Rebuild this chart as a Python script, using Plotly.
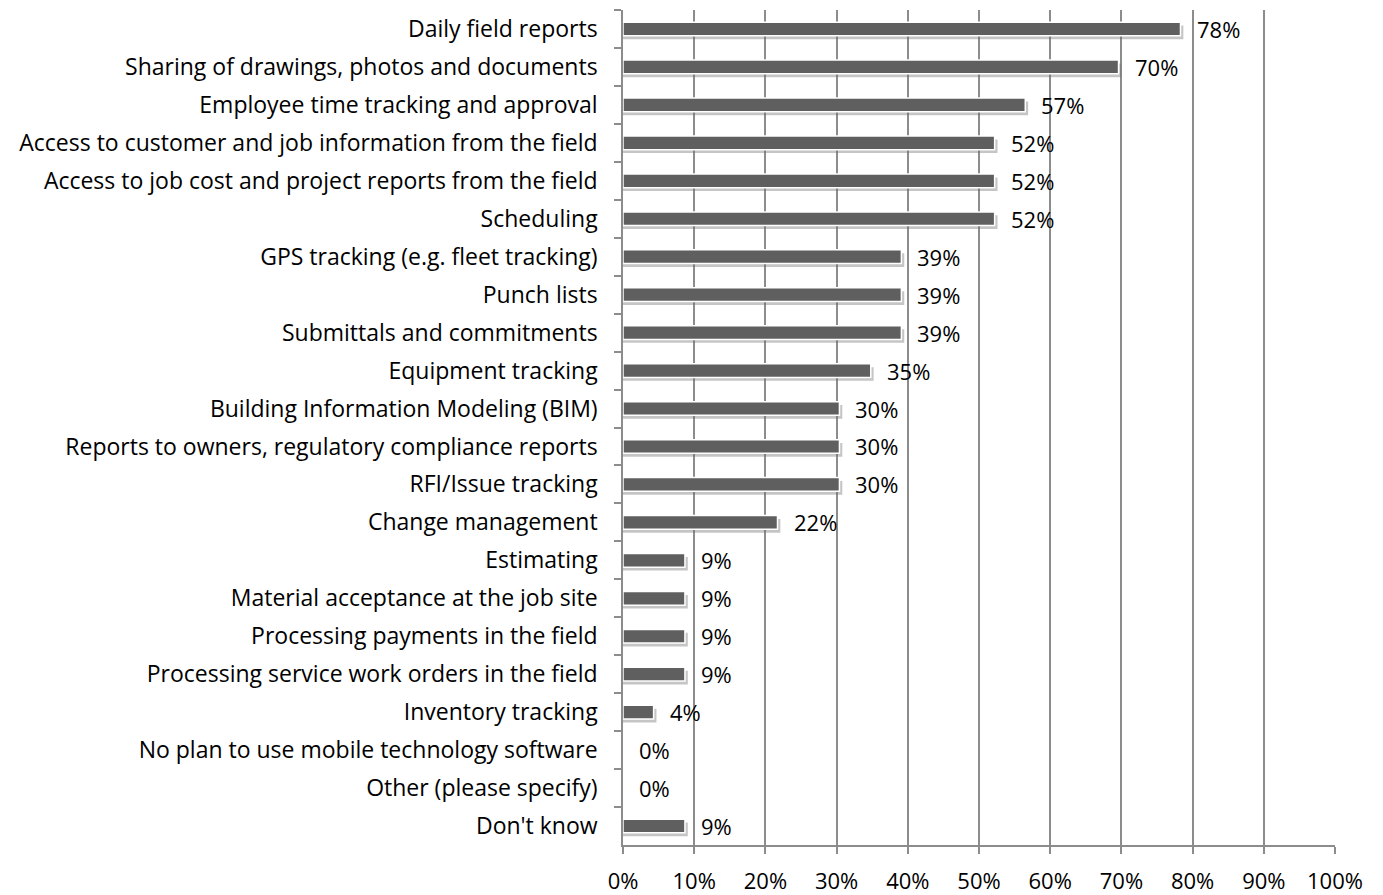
import plotly.graph_objects as go

categories = [
    "Daily field reports",
    "Sharing of drawings, photos and documents",
    "Employee time tracking and approval",
    "Access to customer and job information from the field",
    "Access to job cost and project reports from the field",
    "Scheduling",
    "GPS tracking (e.g. fleet tracking)",
    "Punch lists",
    "Submittals and commitments",
    "Equipment tracking",
    "Building Information Modeling (BIM)",
    "Reports to owners, regulatory compliance reports",
    "RFI/Issue tracking",
    "Change management",
    "Estimating",
    "Material acceptance at the job site",
    "Processing payments in the field",
    "Processing service work orders in the field",
    "Inventory tracking",
    "No plan to use mobile technology software",
    "Other (please specify)",
    "Don't know",
]
values = [78.3, 69.6, 56.5, 52.2, 52.2, 52.2, 39.1, 39.1, 39.1, 34.8, 30.4, 30.4,
          30.4, 21.7, 8.7, 8.7, 8.7, 8.7, 4.3, 0, 0, 8.7]
labels = ["78%", "70%", "57%", "52%", "52%", "52%", "39%", "39%", "39%", "35%",
          "30%", "30%", "30%", "22%", "9%", "9%", "9%", "9%", "4%", "0%", "0%", "9%"]
x_ticks = [0, 10, 20, 30, 40, 50, 60, 70, 80, 90, 100]

FONT = "Open Sans"
FS = 23
BAR_W = 0.36

fig = go.Figure()
# soft drop shadow under each bar
fig.add_trace(go.Bar(
    y=categories, x=[v + 0.4 if v > 0 else 0 for v in values], orientation="h",
    marker=dict(color="rgba(110,110,110,0.4)", line=dict(width=0)),
    width=BAR_W, offset=-BAR_W / 2 + 0.09, hoverinfo="skip",
))
fig.add_trace(go.Bar(
    y=categories, x=values, orientation="h",
    marker=dict(color="#5f5f5f", line=dict(color="white", width=1.5)),
    width=BAR_W, offset=-BAR_W / 2, hoverinfo="x+y",
))
for c, v, t in zip(categories, values, labels):
    fig.add_annotation(x=v, y=c, text=t, showarrow=False, xanchor="left",
                       xshift=14, font=dict(family=FONT, size=FS - 1, color="#000"))

# page body has an 8px default margin; the figure is offset by it
fig.update_layout(
    width=1375, height=887,
    margin=dict(l=615, r=48, t=2, b=50),
    plot_bgcolor="white", paper_bgcolor="white",
    showlegend=False, barmode="overlay",
    font=dict(family=FONT, size=FS, color="#000"),
)
fig.update_xaxes(
    range=[0, 100], tickvals=x_ticks, ticktext=[f"{t}%" for t in x_ticks],
    showgrid=True, gridcolor="#8c8c8c", gridwidth=1.5,
    showline=True, linecolor="#8c8c8c", linewidth=1.5,
    ticks="outside", ticklen=7, tickcolor="#8c8c8c", tickwidth=1.5,
    ticklabelstandoff=9, automargin=False,
    zeroline=False, tickfont=dict(family=FONT, size=FS - 1, color="#000"),
)
fig.update_yaxes(
    autorange="reversed", tickson="boundaries",
    showline=True, linecolor="#8c8c8c", linewidth=1.5,
    ticks="outside", ticklen=7, tickcolor="#8c8c8c", tickwidth=1.5,
    ticklabelstandoff=19, automargin=False,
    showgrid=False, tickfont=dict(family=FONT, size=FS, color="#000"),
)
fig.write_html("out.html")
